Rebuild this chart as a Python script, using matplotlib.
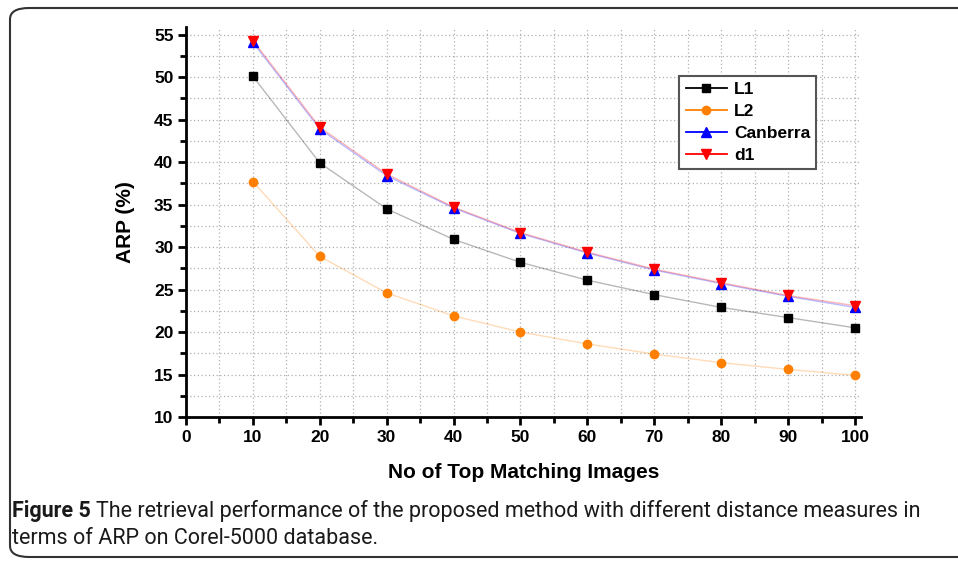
import matplotlib
matplotlib.use("Agg")
import matplotlib.pyplot as plt
from matplotlib.patches import FancyBboxPatch
from matplotlib.ticker import MultipleLocator

x = [10, 20, 30, 40, 50, 60, 70, 80, 90, 100]
l1 = [50.1, 39.9, 34.5, 30.9, 28.2, 26.1, 24.4, 22.9, 21.7, 20.5]
l2 = [37.7, 28.9, 24.6, 21.9, 20.0, 18.6, 17.4, 16.4, 15.6, 14.9]
canberra = [54.1, 43.9, 38.4, 34.6, 31.6, 29.3, 27.3, 25.7, 24.2, 22.9]
d1 = [54.3, 44.1, 38.6, 34.7, 31.7, 29.4, 27.4, 25.8, 24.3, 23.1]

plt.rcParams['font.family'] = ['Liberation Sans', 'DejaVu Sans']

W, H = 958, 562
fig = plt.figure(figsize=(W / 100, H / 100), dpi=100)
ax = fig.add_axes([186 / W, 1 - 417 / H, (861 - 186) / W, (417 - 27) / H])

series = [
    ("L1", l1, "black", "s", 5.5),
    ("L2", l2, "#ff8000", "o", 6),
    ("Canberra", canberra, "blue", "^", 6.5),
    ("d1", d1, "red", "v", 6.5),
]
for name, ys, c, m, ms in series:
    ax.plot(x, ys, color=c, alpha=0.28, lw=1, zorder=2)
    ax.plot(x, ys, linestyle="none", marker=m, color=c, markersize=ms, zorder=3)
    ax.plot([], [], color=c, marker=m, markersize=ms, lw=1.3, label=name)

ax.set_xlim(0, 100.9)
ax.set_ylim(10, 55.9)
ax.xaxis.set_major_locator(MultipleLocator(10))
ax.xaxis.set_minor_locator(MultipleLocator(5))
ax.yaxis.set_major_locator(MultipleLocator(5))
ax.yaxis.set_minor_locator(MultipleLocator(2.5))
ax.grid(which="both", color="#b0b0b0", linestyle=(0, (1, 2)), lw=0.9)
ax.set_axisbelow(True)

for s in ["top", "right"]:
    ax.spines[s].set_visible(False)
for s in ["left", "bottom"]:
    ax.spines[s].set_linewidth(2)

ax.tick_params(which="major", direction="out", length=6, width=2, labelsize=12.5, pad=3)
ax.tick_params(which="minor", direction="out", length=4, width=2)
for lab in ax.get_xticklabels() + ax.get_yticklabels():
    lab.set_fontweight("bold")

ax.set_ylabel("ARP (%)", fontsize=15, fontweight="bold", labelpad=14)
ax.set_xlabel("No of Top Matching Images", fontsize=15, fontweight="bold", labelpad=13)

leg = ax.legend(loc="upper left", bbox_to_anchor=(0.731, 0.874),
                prop={"weight": "bold", "size": 12.5}, frameon=True, fancybox=False,
                shadow=False, borderpad=0.35,
                handlelength=2.4, handletextpad=0.4,
                labelspacing=0.38, borderaxespad=0)
leg.get_frame().set_edgecolor("#555555")
leg.get_frame().set_linewidth(1.5)
leg.get_frame().set_alpha(1)

frame = FancyBboxPatch((10 / W, 5 / H), 1.2, (557 - 8) / H,
                       boxstyle="round,pad=0,rounding_size=0.02",
                       transform=fig.transFigure, fill=False,
                       edgecolor="#333333", lw=1.5, clip_on=False)
fig.patches.append(frame)

cap_font = ['Roboto', 'DejaVu Sans']
cap_size = 15.5
y1 = 1 - 511 / H
y2 = 1 - 539 / H
t0 = fig.text(12 / W, y1, "Figure 5", fontsize=cap_size, fontweight="bold",
              family=cap_font, va="center", ha="left", color="#1a1a1a")
fig.canvas.draw()
r = fig.canvas.get_renderer()
bb = t0.get_window_extent(r)
fig.text((bb.x1 + 5) / W, y1,
         "The retrieval performance of the proposed method with different distance measures in",
         fontsize=cap_size, family=cap_font, va="center", ha="left", color="#1a1a1a")
fig.text(12 / W, y2, "terms of ARP on Corel-5000 database.",
         fontsize=cap_size, family=cap_font, va="center", ha="left", color="#1a1a1a")

fig.savefig("out.png", dpi=100)
